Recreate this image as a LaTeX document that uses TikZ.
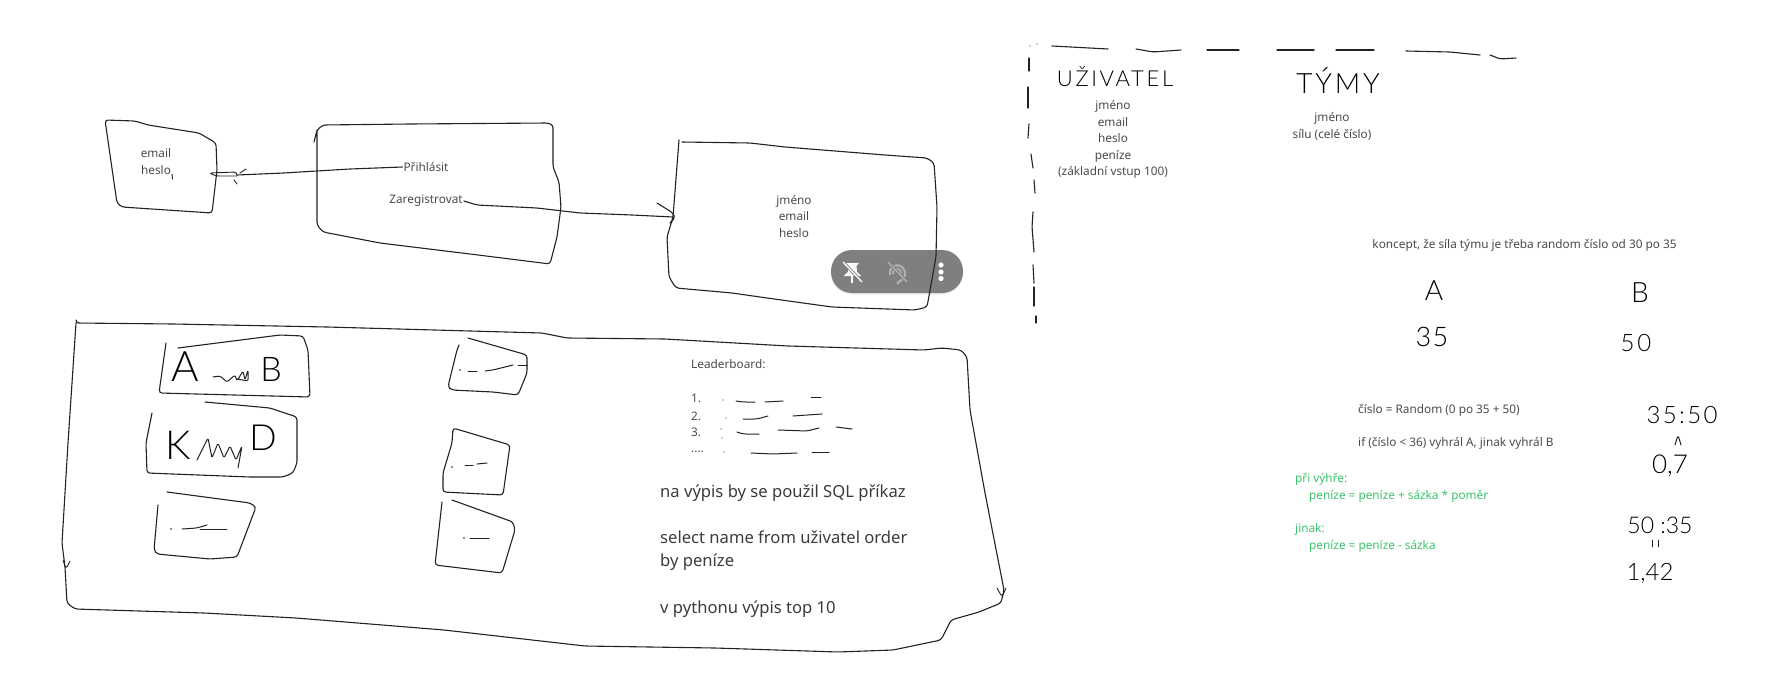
\documentclass[tikz,border=0pt]{standalone}
\usepackage{fontspec}
\setmainfont{Noto Sans}
\newfontfamily\handfont{Lato Light}
\usetikzlibrary{positioning,shadows}
\definecolor{inkcol}{HTML}{222222}
\definecolor{textcol}{HTML}{4A4A4A}
\definecolor{greencol}{HTML}{3CC26B}
\definecolor{pillcol}{HTML}{7F7F7F}
\tikzset{
	pen/.style={draw=inkcol,line width=1.1pt,line cap=round,line join=round,rounded corners=3pt},
	typed/.style={text=textcol,inner sep=1pt,align=center,font=\fontsize{11.8}{16.6}\selectfont},
	typedbig/.style={text=textcol!80!black,inner sep=0pt,anchor=west,align=left,font=\fontsize{16.6}{23}\selectfont},
	typedgreen/.style={text=greencol,inner sep=0pt,anchor=west,align=left,font=\fontsize{11.8}{17}\selectfont},
	hand/.style={text=black,inner sep=0pt},
}
\newcommand{\handtext}[2]{\fontsize{#1}{#1}\handfont\addfontfeature{LetterSpace=#2}}
\begin{document}
\begin{tikzpicture}[x=1pt,y=-1pt]
	\useasboundingbox (0,0) rectangle (1771,677);
	\node(pill) at (897,271.5) [fill=pillcol,rounded corners=21pt,minimum width=132pt,minimum height=43pt,inner sep=0pt,drop shadow={opacity=0.15,shadow xshift=0pt,shadow yshift=-1.5pt}] {};
	\fill[white] (846,263) -- (859,263) -- (856.5,266) -- (857,272) -- (861,276) -- (843.5,276) -- (848,272) -- (848.5,266) -- cycle;
	\draw[white,line width=1.5pt] (852,276) -- (852,283);
	\draw[pillcol,line width=3pt] (843,262) -- (863,283);
	\draw[white,line width=1.3pt] (843,262) -- (862,282);
	\draw[gray!60,line width=2pt] (890,275) .. controls (888,262) and (906,262) .. (905,275) .. controls (904,281) and (899,280) .. (897,284);
	\draw[gray!60,line width=1.6pt] (893,274) .. controls (892,267) and (902,267) .. (901,274);
	\draw[pillcol,line width=3pt] (888,262) -- (908,283);
	\draw[gray!60,line width=1.3pt] (888,262) -- (907,282);
	\foreach \dy in {265,272,278.5}
		\fill[white] (941,\dy) circle (2.6);

	\node(email) at (156,161.5) [typed] {email\\heslo};
	\draw[pen] (105,120) -- (135,121) -- (148,125) -- (199,133) -- (216,143) -- (217,170) -- (212,213) -- (122,207) -- (117,203) -- cycle;
	\draw[pen,line width=0.9pt] (172,174) -- (172.5,179);

	\node(prihlasit) at (426,167) [typed] {Přihlásit};
	\node(zaregistrovat) at (426,201) [typed] {Zaregistrovat};
	\draw[pen] (314,142) -- (317,130) -- (323,125) -- (410,124) -- (548,123) -- (553,125) -- (553,167) -- (559,182) -- (561,207) -- (557,237) -- (550,264) -- (470,254) -- (380,243) -- (323,232) -- (317,225) -- (317,130);

	\node(profil) at (794,216.5) [typed] {jméno\\email\\heslo};
	\draw[pen] (682,142) -- (750,143) -- (785,147) -- (885,155) -- (927,158) -- (934,163) -- (937,207) -- (936,257) -- (927,307) -- (915,310) -- (832,307) -- (767,298) -- (732,293) -- (676,288) -- (669,277) -- (667,237) -- (673,217) -- (679,140);

	\coordinate(loginend) at (237,175);
	\coordinate(regend) at (673,217);
	\draw[pen] (prihlasit.west) -- (350,169) -- (300,172) -- (284,173) -- (loginend);
	\draw[pen,line width=0.9pt] (loginend) -- (237,172) -- (209,173) -- (216,176) -- (237,176);
	\draw[pen,line width=0.9pt] (246,169) -- (240,173);
	\draw[pen,line width=0.9pt] (234,180) -- (237,184);
	\draw[pen] (zaregistrovat.east) -- (477,205) -- (537,208) -- (580,213) -- (632,215) -- (regend);
	\draw[pen] (657,203) -- (673,213) -- (675,218) -- (670,223);

	\draw[pen] (76,320) -- (76,323) -- (173,324) -- (327,327) -- (542,333) -- (567,338) -- (665,339) -- (788,346) -- (924,350) -- (942,348) -- (961,350) -- (967,357) -- (970,410) -- (985,493) -- (1004,590) -- (1001,603) -- (979,612) -- (951,620) -- (941,640) -- (893,650) -- (838,652) -- (715,648) -- (585,646) -- (444,630) -- (296,618) -- (204,613) -- (75,609) -- (67,603) -- (65,567) -- (62,543) -- (68,443) -- (76,323);
	\draw[pen,line width=0.9pt] (63,560) -- (66,569) -- (70,561);
	\draw[pen,line width=0.9pt] (997,588) -- (1002,597) -- (1006,588);

	\draw[pen] (166,343) -- (159,393) -- (310,397) -- (308,350) -- (303,336) -- (280,335) -- (178,348);
	\node(teama) at (185,367) [hand,font={\handtext{42}{0}}] {A};
	\node(teamb) at (271,369) [hand,font={\handtext{34}{0}}] {B};
	\draw[pen,line width=1pt,rounded corners=1.5pt] (213,377) -- (220,376) -- (227,382) -- (235,375) -- (237,381) -- (243,371) -- (245,380) -- (248,370) -- (248,381) -- (237,379);

	\draw[pen] (205,402) -- (270,408) -- (297,417) -- (297,463) -- (293,473) -- (283,477) -- (250,477) -- (147,473) -- (146,443) -- (152,413);
	\node(teamk) at (178,445) [hand,font={\handtext{40}{0}}] {K};
	\node(teamd) at (263,438) [hand,font={\handtext{36}{0}}] {D};
	\draw[pen,line width=1pt,rounded corners=1.5pt] (197,460) -- (208,438) -- (212,458) -- (218,443) -- (224,458) -- (230,446) -- (236,460) -- (242,446) -- (238,468);

	\draw[pen] (167,492) -- (250,503) -- (256,507) -- (237,557) -- (210,559) -- (157,554) -- (154,550) -- (158,505);
	\fill[inkcol] (171,529) circle (0.8);
	\draw[pen,line width=1pt] (182,529) -- (197,528) -- (207,525);
	\draw[pen,line width=1pt] (200,529) -- (227,529);

	\draw[pen] (468,338) -- (527,355) -- (527,373) -- (518,395) -- (493,392) -- (452,390) -- (448,387) -- (452,370) -- (457,350) -- (459,345);
	\fill[inkcol] (460,370) circle (0.8);
	\draw[pen,line width=1pt] (468,371) -- (477,371);
	\draw[pen,line width=1pt] (485,371) -- (493,370) -- (513,365);
	\draw[pen,line width=1pt] (518,365) -- (527,365);

	\draw[pen] (453,428) -- (510,445) -- (503,495) -- (443,492) -- (443,473) -- (452,443) -- cycle;
	\fill[inkcol] (452,467) circle (0.8);
	\draw[pen,line width=1pt] (465,465) -- (473,465);
	\draw[pen,line width=1pt] (477,464) -- (487,463);

	\draw[pen] (452,500) -- (513,522) -- (515,530) -- (502,573) -- (435,565) -- (442,502);
	\fill[inkcol] (464,538) circle (0.8);
	\draw[pen,line width=1pt] (470,538) -- (489,538);

	\node(leaderboard) at (690,364) [typed,anchor=west] {Leaderboard:};
	\node(first) at (690,398) [typed,anchor=west] {1.};
	\node(second) at (690,416) [typed,anchor=west] {2.};
	\node(third) at (690,432) [typed,anchor=west] {3.};
	\node(rest) at (690,452) [typed,anchor=west] {....};
	\foreach \px/\py in {723/400,726/418,721/429,722/438,724/452}
		\fill[inkcol] (\px,\py) circle (0.6);
	\draw[pen,line width=1pt] (736,401) -- (743,402) -- (755,402);
	\draw[pen,line width=1pt] (765,402) -- (783,401);
	\draw[pen,line width=1pt] (811,397) -- (821,397);
	\draw[pen,line width=1pt] (743,419) -- (757,419) -- (768,416);
	\draw[pen,line width=1pt] (793,416) -- (822,414);
	\draw[pen,line width=1pt] (737,432) -- (743,434) -- (759,434);
	\draw[pen,line width=1pt] (778,430) -- (807,431) -- (819,428);
	\draw[pen,line width=1pt] (836,427) -- (852,429);
	\draw[pen,line width=1pt] (751,453) -- (773,454) -- (797,453);
	\draw[pen,line width=1pt] (812,452) -- (829,452);

	\node(sqlnote) at (660,493) [typedbig] {na výpis by se použil SQL příkaz};
	\node(sqlquery) at (660,550.5) [typedbig] {select name from uživatel order\\by peníze};
	\node(topten) at (660,609) [typedbig] {v pythonu výpis top 10};

	\fill[inkcol] (1030,46) circle (0.6);
	\fill[inkcol] (1037,44) circle (0.6);
	\draw[pen] (1052,46) -- (1108,49);
	\draw[pen] (1136,49) -- (1153,52) -- (1181,50);
	\draw[pen] (1207,50) -- (1239,50);
	\draw[pen] (1277,50) -- (1314,50);
	\draw[pen] (1336,50) -- (1374,50);
	\draw[pen] (1406,51) -- (1450,52) -- (1480,55);
	\draw[pen] (1490,55) -- (1500,59) -- (1516,58);
	\draw[pen] (1029,58) -- (1029,71);
	\draw[pen] (1028,87) -- (1028,108);
	\draw[pen] (1029,124) -- (1028,138);
	\draw[pen] (1031,154) -- (1033,168);
	\draw[pen] (1034,180) -- (1035,193);
	\draw[pen] (1033,212) -- (1032,227) -- (1034,252);
	\draw[pen] (1033,265) -- (1034,283);
	\draw[pen] (1034,287) -- (1034,306);
	\draw[pen] (1036,316) -- (1036,323);

	\node(uzivatel) at (1115,77) [hand,font={\handtext{22}{12}}] {UŽIVATEL};
	\node(uzivattext) at (1113,139.5) [typed] {jméno\\email\\heslo\\peníze\\(základní vstup 100)};
	\node(tymy) at (1338,81) [hand,font={\handtext{28}{10}}] {TÝMY};
	\node(tymytext) at (1332,126.5) [typed] {jméno\\sílu (celé číslo)};

	\node(koncept) at (1524.5,245) [typed] {koncept, že síla týmu je třeba random číslo od 30 po 35};
	\node(labela) at (1434,291) [hand,font={\handtext{28}{0}}] {A};
	\node(labelb) at (1640,293) [hand,font={\handtext{28}{0}}] {B};
	\node(silaa) at (1432,337) [hand,font={\handtext{27}{5}}] {35};
	\node(silab) at (1636,343) [hand,font={\handtext{24}{12}}] {50};

	\node(cislo) at (1357,410) [typed,anchor=west] {číslo = Random (0 po 35 + 50)};
	\node(podminka) at (1357,443) [typed,anchor=west] {if (číslo < 36) vyhrál A, jinak vyhrál B};
	\node(vyhra) at (1295,487.5) [typedgreen] {při výhře:\\\hspace*{14pt}peníze = peníze + sázka * poměr};
	\node(jinak) at (1295,537.5) [typedgreen] {jinak:\\\hspace*{14pt}peníze = peníze - sázka};

	\node(pomerab) at (1682,415) [hand,font={\handtext{24}{10}}] {35:50};
	\draw[pen,line width=1pt] (1675,445) -- (1678,435) -- (1681,445);
	\node(pomerc) at (1670,466) [hand,font={\handtext{26}{0}}] {0,7};
	\node(pomerba) at (1660,525) [hand,font={\handtext{23}{0}}] {50 :35};
	\draw[pen,line width=0.9pt] (1652,540) -- (1652,547);
	\draw[pen,line width=0.9pt] (1658,540) -- (1658,547);
	\node(pomerd) at (1650,573) [hand,font={\handtext{24}{0}}] {1,42};
\end{tikzpicture}
\end{document}
